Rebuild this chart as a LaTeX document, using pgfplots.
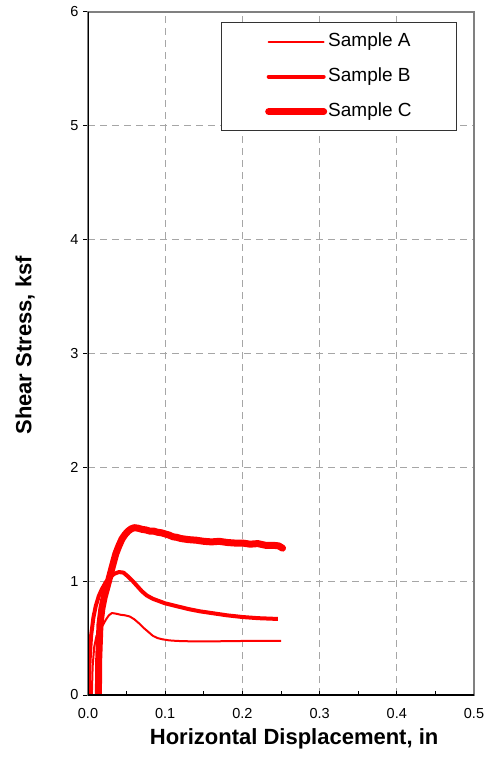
\documentclass[border=0pt]{standalone}
\usepackage{fontspec}
\setmainfont{Liberation Sans}
\usepackage{pgfplots}
\pgfplotsset{compat=1.18}
\newcommand{\tlfont}{\fontsize{14.5}{16}\selectfont}
\begin{document}
\begin{tikzpicture}
\begin{axis}[
  at={(0,0)}, anchor=south west,
  scale only axis, width=386pt, height=683pt,
  xmin=0, xmax=0.5, ymin=0, ymax=6,
  xtick={0,0.1,0.2,0.3,0.4,0.5},
  xticklabels={\tlfont 0.0,\tlfont 0.1,\tlfont 0.2,\tlfont 0.3,\tlfont 0.4,\tlfont 0.5},
  minor xtick={0.05,0.15,0.25,0.35,0.45},
  ytick={0,1,2,3,4,5,6},
  yticklabels={\tlfont 0,\tlfont 1,\tlfont 2,\tlfont 3,\tlfont 4,\tlfont 5,\tlfont 6},
  tick pos=left, tick align=inside,
  major tick length=4pt, minor tick length=4pt,
  tick style={black, line width=1pt},
  ytick style={xshift=-5pt},
  grid=major,
  major grid style={gray!70, line width=0.8pt, dash pattern=on 7pt off 5pt},
  axis line style={draw=gray, line width=2.2pt},
  xticklabel style={yshift=-10pt},
  yticklabel style={xshift=-6pt},
  xlabel={Horizontal Displacement, in},
  ylabel={Shear Stress, ksf},
  xlabel style={at={(axis description cs:0.534,-0.0644)}, anchor=center, font=\fontsize{22}{22}\selectfont\bfseries},
  ylabel style={at={(axis description cs:-0.163,0.512)}, anchor=center, font=\fontsize{22}{22}\selectfont\bfseries},
  legend style={at={(axis description cs:0.956,0.985)}, anchor=north east,
    draw=black!80, line width=0.8pt, fill=white,
    inner xsep=44pt, inner ysep=9pt, row sep=15pt,
    font=\fontsize{19}{19}\selectfont,
    nodes={inner sep=1pt, text height=14pt, text depth=4pt}},
  legend cell align=left,
  legend image code/.code={\draw[#1, line cap=round] (0pt,0pt) -- (55pt,0pt);},
]
\addplot[red, line width=2pt, line join=round] coordinates {
(0.005,0) (0.006,0.25) (0.008,0.42) (0.011,0.52) (0.015,0.57) (0.019,0.61) (0.023,0.66) (0.027,0.70) (0.031,0.72) (0.036,0.715) (0.042,0.705) (0.048,0.70) (0.054,0.69) (0.060,0.665) (0.066,0.63) (0.072,0.59) (0.078,0.555) (0.084,0.52) (0.090,0.50) (0.096,0.49) (0.105,0.48) (0.115,0.475) (0.13,0.472) (0.15,0.47) (0.17,0.472) (0.19,0.474) (0.21,0.475) (0.23,0.475) (0.25,0.475)
};
\addlegendentry{Sample A}
\addplot[red, line width=4pt, line join=round] coordinates {
(0.001,0) (0.002,0.3) (0.004,0.52) (0.007,0.68) (0.010,0.78) (0.014,0.87) (0.018,0.93) (0.023,0.99) (0.028,1.03) (0.034,1.065) (0.040,1.08) (0.046,1.075) (0.052,1.04) (0.058,1.0) (0.064,0.955) (0.070,0.91) (0.076,0.875) (0.084,0.845) (0.092,0.825) (0.100,0.805) (0.115,0.78) (0.130,0.755) (0.145,0.735) (0.160,0.72) (0.18,0.70) (0.20,0.685) (0.22,0.675) (0.246,0.668)
};
\addlegendentry{Sample B}
\addplot[red, line width=7pt, line join=round, line cap=round] coordinates {
(0.0135,0) (0.0138,0.3) (0.0155,0.62) (0.018,0.76) (0.021,0.86) (0.025,0.96) (0.0285,1.05) (0.032,1.14) (0.036,1.24) (0.040,1.31) (0.044,1.37) (0.048,1.41) (0.052,1.44) (0.056,1.46) (0.060,1.47) (0.065,1.465) (0.070,1.455) (0.075,1.45) (0.080,1.44) (0.085,1.44) (0.090,1.43) (0.095,1.425) (0.100,1.415) (0.105,1.405) (0.110,1.39) (0.115,1.385) (0.120,1.375) (0.13,1.365) (0.14,1.36) (0.15,1.35) (0.16,1.345) (0.17,1.35) (0.18,1.34) (0.19,1.335) (0.20,1.335) (0.21,1.325) (0.22,1.33) (0.23,1.315) (0.24,1.315) (0.247,1.31) (0.252,1.29)
};
\addlegendentry{Sample C}
\draw[black, line width=2pt] (rel axis cs:0,1) -- (rel axis cs:0,0) -- (rel axis cs:1,0);
\end{axis}
\pgfresetboundingbox
\useasboundingbox (-88pt,-64pt) rectangle (401pt,695pt);
\end{tikzpicture}
\end{document}
